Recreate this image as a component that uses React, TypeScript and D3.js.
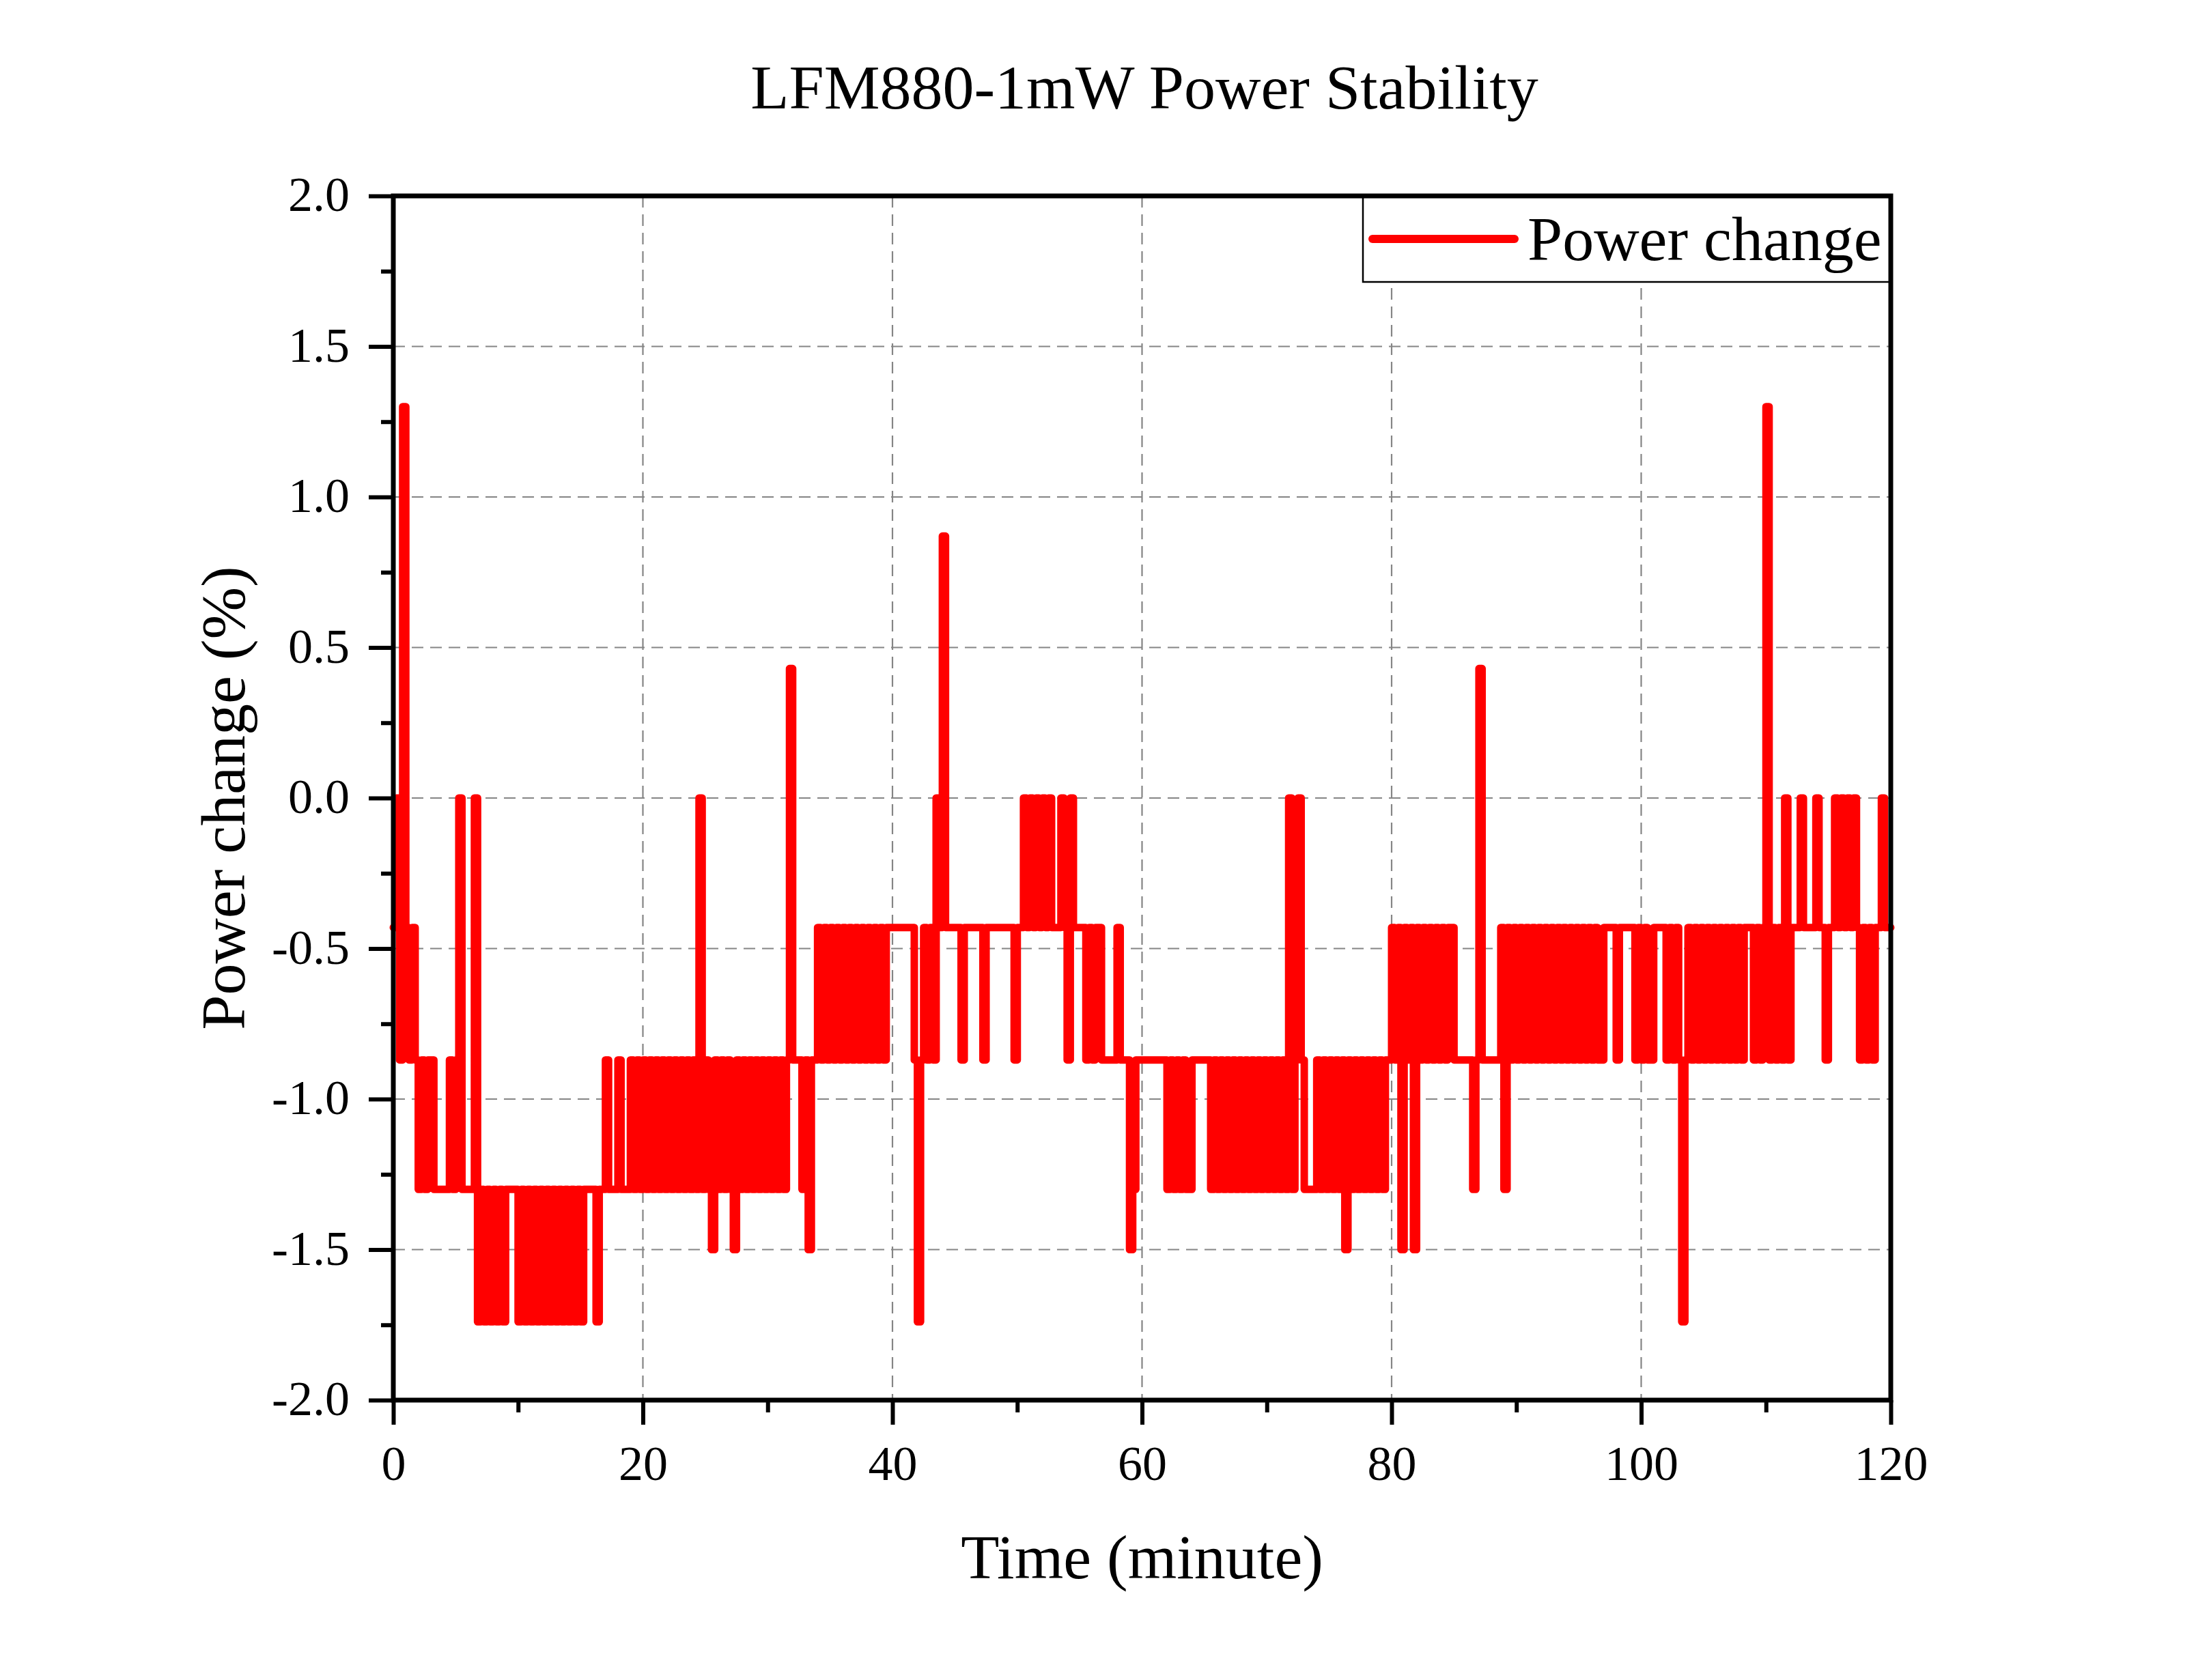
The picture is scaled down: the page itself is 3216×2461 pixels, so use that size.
import { useEffect, useRef } from "react";
import * as d3 from "d3";

const WIDTH = 3216;
const HEIGHT = 2461;
const FONT = '"Liberation Serif", "Times New Roman", Times, serif';

// quantised power levels (%), indexed by the digits in sampleRows
const levelValues = [1.3, 0.87, 0.43, 0, -0.43, -0.87, -1.3, -1.5, -1.74];

// one logged sample every 0.25 minute, one string per 10 minutes
const sampleStep = 0.25;
const sampleRows = [
  "4350454565" + "6556666656" + "5366663868" + "6868686666", // 0-10
  "8686868686" + "8686868686" + "8666686656" + "6656665656", // 10-20
  "5656565656" + "5656565636" + "5675656567" + "5656565656", // 20-30
  "5656565255" + "5657554545" + "4545454545" + "4545454544", // 30-40
  "4444444585" + "4545341444" + "4454444445" + "4444444445", // 40-50
  "4434343434" + "3444345344" + "4454544555" + "5545557655", // 50-60
  "5555555565" + "6565665555" + "5565656565" + "6565656565", // 60-70
  "6565656365" + "3566665656" + "5656575656" + "5656565655", // 70-80
  "4547454745" + "4545454544" + "5555556525" + "5555546454", // 80-90
  "5454545454" + "5454545454" + "5454545544" + "4454444454", // 90-100
  "5455444454" + "5458545454" + "5454545454" + "5454445454", // 100-110
  "0545453544" + "4344443445" + "4434343434" + "5454544344", // 110-120
  "4",
];

const xTicks = [0, 20, 40, 60, 80, 100, 120];
const xMinorTicks = [10, 30, 50, 70, 90, 110];
const xGrid = [20, 40, 60, 80, 100];
const yTicks = [-2, -1.5, -1, -0.5, 0, 0.5, 1, 1.5, 2];
const yMinorTicks = [-1.75, -1.25, -0.75, -0.25, 0.25, 0.75, 1.25, 1.75];
const yGrid = [-1.5, -1, -0.5, 0, 0.5, 1, 1.5];

const title = "LFM880-1mW Power Stability";
const xLabel = "Time (minute)";
const yLabel = "Power change (%)";
const seriesName = "Power change";

interface Sample {
  t: number;
  v: number;
}

export default function App() {
  const svgRef = useRef<SVGSVGElement>(null);

  useEffect(() => {
    if (!svgRef.current) return;
    const svg = d3.select(svgRef.current);
    svg.selectAll("*").remove();

    const margin = { top: 287, right: 447, bottom: 410, left: 576 };
    const innerW = WIDTH - margin.left - margin.right;
    const innerH = HEIGHT - margin.top - margin.bottom;

    const data: Sample[] = sampleRows
      .join("")
      .split("")
      .map((c, i) => ({ t: i * sampleStep, v: levelValues[+c] }));

    const x = d3.scaleLinear().domain([0, 120]).range([0, innerW]);
    const y = d3.scaleLinear().domain([-2, 2]).range([innerH, 0]);

    svg
      .append("rect")
      .attr("width", WIDTH)
      .attr("height", HEIGHT)
      .attr("fill", "#ffffff");

    // title
    svg
      .append("text")
      .attr("x", 1676)
      .attr("y", 159)
      .attr("text-anchor", "middle")
      .style("font-family", FONT)
      .style("font-size", "92px")
      .text(title);

    const g = svg
      .append("g")
      .attr("transform", `translate(${margin.left},${margin.top})`);

    // dashed grid
    g.append("g")
      .selectAll("line")
      .data(xGrid)
      .join("line")
      .attr("x1", (d) => x(d))
      .attr("x2", (d) => x(d))
      .attr("y1", 0)
      .attr("y2", innerH)
      .attr("stroke", "#858585")
      .attr("stroke-width", 2.2)
      .attr("stroke-dasharray", "17,10");
    g.append("g")
      .selectAll("line")
      .data(yGrid)
      .join("line")
      .attr("x1", 0)
      .attr("x2", innerW)
      .attr("y1", (d) => y(d))
      .attr("y2", (d) => y(d))
      .attr("stroke", "#858585")
      .attr("stroke-width", 2.2)
      .attr("stroke-dasharray", "17,10");

    // power trace
    const line = d3
      .line<Sample>()
      .x((d) => x(d.t))
      .y((d) => y(d.v))
      .curve(d3.curveStepAfter);
    g.append("path")
      .datum(data)
      .attr("d", line)
      .attr("fill", "none")
      .attr("stroke", "#ff0000")
      .attr("stroke-width", 11)
      .attr("stroke-linejoin", "round")
      .attr("stroke-linecap", "round");

    // legend
    const legW = 773;
    const legH = 126;
    const leg = g.append("g").attr("transform", `translate(${innerW - legW},0)`);
    leg
      .append("rect")
      .attr("width", legW)
      .attr("height", legH)
      .attr("fill", "#ffffff")
      .attr("stroke", "#000000")
      .attr("stroke-width", 2.5);
    leg
      .append("line")
      .attr("x1", 14)
      .attr("x2", 222)
      .attr("y1", 63)
      .attr("y2", 63)
      .attr("stroke", "#ff0000")
      .attr("stroke-width", 12)
      .attr("stroke-linecap", "round");
    leg
      .append("text")
      .attr("x", 241)
      .attr("y", 94)
      .style("font-family", FONT)
      .style("font-size", "92px")
      .text(seriesName);

    // frame
    g.append("rect")
      .attr("width", innerW)
      .attr("height", innerH)
      .attr("fill", "none")
      .attr("stroke", "#000000")
      .attr("stroke-width", 7);

    // x axis
    const xAxis = g
      .append("g")
      .attr("transform", `translate(0,${innerH})`)
      .call(
        d3
          .axisBottom(x)
          .tickValues(xTicks)
          .tickSize(36)
          .tickSizeOuter(0)
          .tickFormat((d) => String(d)),
      );
    xAxis.select(".domain").remove();
    xAxis.selectAll("line").attr("stroke", "#000").attr("stroke-width", 6);
    xAxis
      .selectAll("text")
      .attr("y", 117)
      .attr("dy", null)
      .attr("fill", "#000")
      .style("font-family", FONT)
      .style("font-size", "72px");

    const xMinor = g
      .append("g")
      .attr("transform", `translate(0,${innerH})`)
      .call(
        d3
          .axisBottom(x)
          .tickValues(xMinorTicks)
          .tickSize(18)
          .tickSizeOuter(0)
          .tickFormat(() => ""),
      );
    xMinor.select(".domain").remove();
    xMinor.selectAll("line").attr("stroke", "#000").attr("stroke-width", 6);

    // y axis
    const yAxis = g.append("g").call(
      d3
        .axisLeft(y)
        .tickValues(yTicks)
        .tickSize(36)
        .tickSizeOuter(0)
        .tickFormat((d) => (+d).toFixed(1)),
    );
    yAxis.select(".domain").remove();
    yAxis.selectAll("line").attr("stroke", "#000").attr("stroke-width", 6);
    yAxis
      .selectAll("text")
      .attr("x", -64)
      .attr("dy", "0.3em")
      .attr("fill", "#000")
      .style("font-family", FONT)
      .style("font-size", "72px");

    const yMinor = g.append("g").call(
      d3
        .axisLeft(y)
        .tickValues(yMinorTicks)
        .tickSize(18)
        .tickSizeOuter(0)
        .tickFormat(() => ""),
    );
    yMinor.select(".domain").remove();
    yMinor.selectAll("line").attr("stroke", "#000").attr("stroke-width", 6);

    // axis titles
    g.append("text")
      .attr("x", innerW / 2)
      .attr("y", 2312 - margin.top)
      .attr("text-anchor", "middle")
      .style("font-family", FONT)
      .style("font-size", "92px")
      .text(xLabel);
    g.append("text")
      .attr("transform", `translate(${358 - margin.left},${innerH / 2}) rotate(-90)`)
      .attr("text-anchor", "middle")
      .style("font-family", FONT)
      .style("font-size", "92px")
      .text(yLabel);
  }, []);

  return (
    <div style={{ position: "absolute", left: 0, top: 0 }}>
      <svg
        ref={svgRef}
        width={WIDTH}
        height={HEIGHT}
        style={{ display: "block" }}
        role="img"
        aria-label="LFM880-1mW power stability line chart"
      />
    </div>
  );
}
